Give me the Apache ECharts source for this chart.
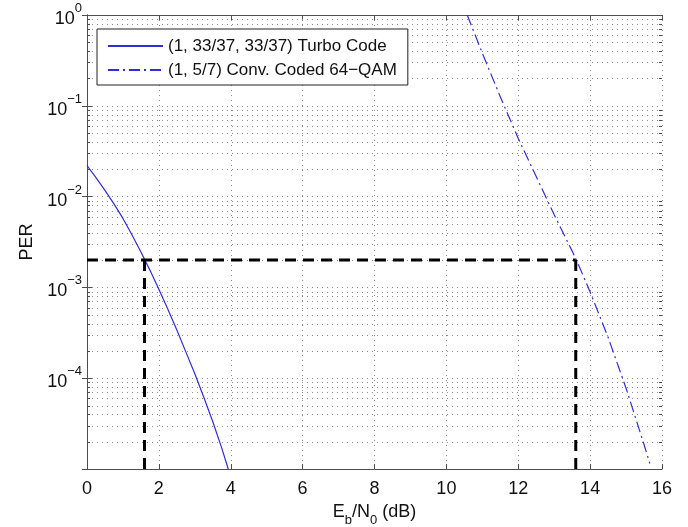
<!DOCTYPE html>
<html>
<head>
<meta charset="utf-8">
<script src="https://cdn.jsdelivr.net/npm/echarts@6/dist/echarts.min.js"></script>
<style>
  html, body { margin: 0; padding: 0; background: #fff; }
  #chart { width: 688px; height: 527px; }
</style>
</head>
<body>
<div id="chart"></div>
<script>
// Eb/N0 (dB) and packet error rate for the rate (1, 33/37, 33/37) turbo code
const turboEbN0 = [0, 0.25, 0.5, 0.75, 1.0, 1.25, 1.5, 1.75, 2.0, 2.25, 2.5, 2.75, 3.0, 3.25, 3.5, 3.75, 3.93];
const turboPER  = [0.0220, 0.0162, 0.0117, 0.00832, 0.00575, 0.00380, 0.00245, 0.00155, 0.000955,
                   0.000575, 0.000339, 0.000195, 0.000112, 0.0000617, 0.0000331, 0.0000170, 0.0000100];

// Eb/N0 (dB) and packet error rate for the (1, 5/7) convolutionally coded 64-QAM
const convEbN0 = [10.58, 11.0, 11.5, 12.0, 12.5, 13.0, 13.5, 13.62, 14.0, 14.5, 15.0, 15.5, 15.66];
const convPER  = [1.0, 0.380, 0.126, 0.0437, 0.0166, 0.00631, 0.00251, 0.00200, 0.000891,
                  0.000282, 0.0000776, 0.0000186, 0.0000115];

// target PER and the Eb/N0 each scheme needs to reach it
const targetPER = 0.002;
const turboAtTarget = 1.6;
const convAtTarget = 13.6;

const seriesNames = ['(1, 33/37, 33/37) Turbo Code', '(1, 5/7) Conv. Coded 64\u2212QAM'];

// axis ranges
const xMin = 0, xMax = 16, xStep = 2;
const yMin = 1e-5, yMax = 1;

// minor log levels 2..9 inside each decade
const minorLevels = [];
for (let e = -5; e < 0; e++) {
  for (let m = 2; m <= 9; m++) minorLevels.push([xMin, m * Math.pow(10, e)]);
}

const FONT = 'Liberation Sans, Arial, Helvetica, sans-serif';
const AXIS_COLOR = '#4d4d4d';
const GRID_COLOR = '#8c8c8c';
const TEXT_COLOR = '#111';
const BLUE = '#2e2ed6';

function pairs(xs, ys) { return xs.map((x, i) => [x, ys[i]]); }

function decadeLabel(v) {
  const e = Math.round(Math.log10(v));
  if (e <= -5) return '';
  return '{b|10}{s|' + (e < 0 ? '\u2212' + (-e) : String(e)) + '}';
}

const chart = echarts.init(document.getElementById('chart'), null, { renderer: 'canvas' });

const baseX = {
  type: 'value', min: xMin, max: xMax, interval: xStep,
  axisLine: { show: true, lineStyle: { color: AXIS_COLOR, width: 1 } },
  axisTick: { show: true, inside: true, length: 5, lineStyle: { color: AXIS_COLOR } },
};
const baseY = {
  type: 'log', logBase: 10, min: yMin, max: yMax,
  axisLine: { show: true, lineStyle: { color: AXIS_COLOR, width: 1 } },
  axisTick: { show: true, inside: true, length: 5, lineStyle: { color: AXIS_COLOR } },
};

chart.setOption({
  animation: false,
  backgroundColor: '#fff',
  textStyle: { fontFamily: FONT },
  grid: { left: 87, right: 26, top: 15, bottom: 58, containLabel: false, outerBoundsMode: 'none' },
  legend: {
    data: seriesNames,
    orient: 'vertical',
    left: 97, top: 29,
    padding: [8, 11, 6, 10],
    itemGap: 6,
    itemWidth: 55, itemHeight: 14,
    itemStyle: { opacity: 0 },
    backgroundColor: '#fff',
    borderColor: '#222', borderWidth: 1,
    textStyle: { fontFamily: FONT, fontSize: 17, color: TEXT_COLOR, lineHeight: 18 },
    z: 10
  },
  xAxis: [
    Object.assign({}, baseX, {
      position: 'bottom',
      axisLabel: { show: true, color: TEXT_COLOR, fontSize: 18, fontFamily: FONT, margin: 11 },
      splitLine: { show: true, lineStyle: { color: GRID_COLOR, type: [1, 4], width: 1 } },
      name: '{n|E}{sub|b}{n|/N}{sub|0}{n| (dB)}',
      nameLocation: 'middle', nameGap: 28,
      nameTextStyle: {
        rich: {
          n: { fontSize: 18, fontFamily: FONT, color: TEXT_COLOR, lineHeight: 24, verticalAlign: 'top' },
          sub: { fontSize: 13, fontFamily: FONT, color: TEXT_COLOR, lineHeight: 24, verticalAlign: 'bottom' }
        }
      }
    }),
    Object.assign({}, baseX, {
      position: 'top',
      axisLabel: { show: false },
      splitLine: { show: false }
    })
  ],
  yAxis: [
    Object.assign({}, baseY, {
      position: 'left',
      axisLabel: {
        show: true, margin: 5, formatter: decadeLabel,
        rich: {
          b: { fontSize: 18, fontFamily: FONT, color: TEXT_COLOR, lineHeight: 26, verticalAlign: 'bottom' },
          s: { fontSize: 13, fontFamily: FONT, color: TEXT_COLOR, lineHeight: 26, verticalAlign: 'top' }
        }
      },
      splitLine: { show: true, lineStyle: { color: GRID_COLOR, type: [1, 4], width: 1 } },
      name: 'PER', nameLocation: 'middle', nameGap: 50, nameRotate: 90,
      nameTextStyle: { fontSize: 18, fontFamily: FONT, color: TEXT_COLOR }
    }),
    Object.assign({}, baseY, {
      position: 'right',
      axisLabel: { show: false },
      splitLine: { show: false }
    })
  ],
  series: [
    {
      // minor log grid lines with short inward ticks on both sides
      type: 'custom',
      silent: true,
      xAxisIndex: 0, yAxisIndex: 0,
      encode: { x: 0, y: 1 },
      data: minorLevels,
      z: 1,
      renderItem: function (params, api) {
        const v = api.value(1);
        const p0 = api.coord([xMin, v]);
        const p1 = api.coord([xMax, v]);
        const y = Math.round(p0[1]) + 0.5;
        return {
          type: 'group',
          children: [
            { type: 'line', shape: { x1: p0[0], y1: y, x2: p1[0], y2: y },
              style: { stroke: GRID_COLOR, lineWidth: 1, lineDash: [1, 4] } },
            { type: 'line', shape: { x1: p0[0], y1: y, x2: p0[0] + 3, y2: y },
              style: { stroke: AXIS_COLOR, lineWidth: 1 } },
            { type: 'line', shape: { x1: p1[0] - 3, y1: y, x2: p1[0], y2: y },
              style: { stroke: AXIS_COLOR, lineWidth: 1 } }
          ]
        };
      }
    },
    {
      name: seriesNames[0],
      type: 'line',
      data: pairs(turboEbN0, turboPER),
      symbol: 'none',
      lineStyle: { color: BLUE, width: 1.2, type: 'solid' },
      itemStyle: { color: BLUE },
      z: 5
    },
    {
      name: seriesNames[1],
      type: 'line',
      data: pairs(convEbN0, convPER),
      symbol: 'none',
      lineStyle: { color: BLUE, width: 1.2, type: [11, 4, 2, 4] },
      itemStyle: { color: BLUE },
      z: 5
    },
    {
      // horizontal guide at the target PER
      type: 'line', silent: true, symbol: 'none',
      data: [[xMin, targetPER], [convAtTarget, targetPER]],
      lineStyle: { color: '#000', width: 3, type: [11, 7] },
      z: 6
    },
    {
      type: 'line', silent: true, symbol: 'none',
      data: [[turboAtTarget, targetPER], [turboAtTarget, yMin]],
      lineStyle: { color: '#000', width: 3, type: [11, 7] },
      z: 6
    },
    {
      type: 'line', silent: true, symbol: 'none',
      data: [[convAtTarget, targetPER], [convAtTarget, yMin]],
      lineStyle: { color: '#000', width: 3, type: [11, 7] },
      z: 6
    }
  ]
});
</script>
</body>
</html>
